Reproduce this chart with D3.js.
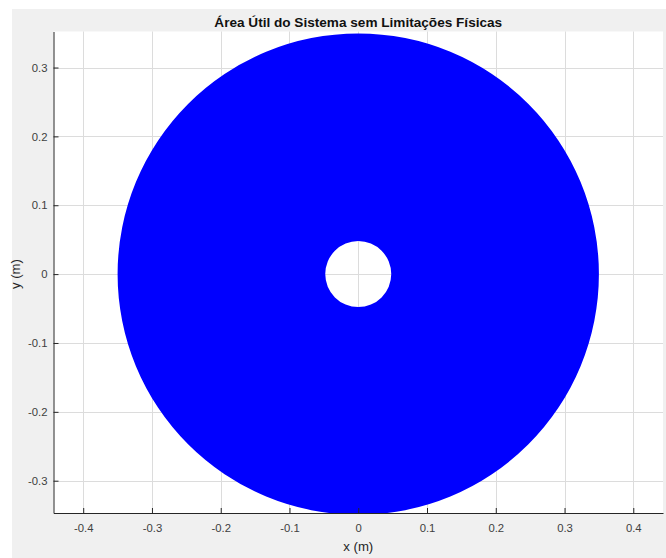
<!DOCTYPE html>
<html>
<head>
<meta charset="utf-8">
<script src="https://cdn.jsdelivr.net/npm/d3@7"></script>
<style>
  html, body { margin: 0; padding: 0; background: #ffffff; }
  svg { display: block; font-family: "Liberation Sans", Arial, Helvetica, sans-serif; }
</style>
</head>
<body>
<svg id="chart" width="666" height="558"></svg>
<script>
// Useful area: annulus between inner and outer radius (metres)
const innerRadius = 0.048;
const outerRadius = 0.35;

// Axis limits and tick values
const xLimits = [-0.4432, 0.4432];
const yLimits = [-0.3469, 0.3523];
const xTicks = [-0.4, -0.3, -0.2, -0.1, 0, 0.1, 0.2, 0.3, 0.4];
const yTicks = [-0.3, -0.2, -0.1, 0, 0.1, 0.2, 0.3];

const titleText = "Área Útil do Sistema sem Limitações Físicas";
const xLabel = "x (m)";
const yLabel = "y (m)";

const svg = d3.select("#chart");
const W = 666, H = 558;
const plot = { left: 53.5, right: 663, top: 31.5, bottom: 513 };

// Figure background
svg.append("rect").attr("x", 12).attr("y", 9).attr("width", W - 12).attr("height", H - 9)
  .attr("fill", "#f0f0f0");

const x = d3.scaleLinear().domain(xLimits).range([plot.left, plot.right]);
const y = d3.scaleLinear().domain(yLimits).range([plot.bottom, plot.top]);

// Axes background
svg.append("rect")
  .attr("x", plot.left).attr("y", plot.top)
  .attr("width", plot.right - plot.left).attr("height", plot.bottom - plot.top)
  .attr("fill", "#ffffff");

// Grid
const grid = svg.append("g").attr("stroke", "#dcdcdc").attr("stroke-width", 1);
grid.selectAll("line.gx").data(xTicks).join("line")
  .attr("x1", d => Math.round(x(d)) + 0.5).attr("x2", d => Math.round(x(d)) + 0.5)
  .attr("y1", plot.top).attr("y2", plot.bottom);
grid.selectAll("line.gy").data(yTicks).join("line")
  .attr("y1", d => Math.round(y(d)) + 0.5).attr("y2", d => Math.round(y(d)) + 0.5)
  .attr("x1", plot.left).attr("x2", plot.right);

// Annulus, clipped to the axes box
svg.append("clipPath").attr("id", "clip")
  .append("rect")
  .attr("x", plot.left).attr("y", plot.top)
  .attr("width", plot.right - plot.left).attr("height", plot.bottom - plot.top);

const pxPerUnit = x(1) - x(0);
const arc = d3.arc()
  .innerRadius(innerRadius * pxPerUnit)
  .outerRadius(outerRadius * pxPerUnit)
  .startAngle(0).endAngle(2 * Math.PI);

svg.append("g").attr("clip-path", "url(#clip)")
  .append("path")
  .attr("transform", `translate(${x(0)},${y(0)})`)
  .attr("d", arc())
  .attr("fill", "#0000ff");

// Axes
const axisColor = "#262626";
const fmt = d => d === 0 ? "0" : d3.format(".1f")(d).replace("−", "-");

const xAxis = d3.axisBottom(x).tickValues(xTicks).tickSizeInner(-5).tickSizeOuter(0)
  .tickPadding(11).tickFormat(fmt);
const gx = svg.append("g").attr("transform", `translate(0,${plot.bottom})`).call(xAxis);

const yAxis = d3.axisLeft(y).tickValues(yTicks).tickSizeInner(-5).tickSizeOuter(0)
  .tickPadding(6).tickFormat(fmt);
const gy = svg.append("g").attr("transform", `translate(${plot.left},0)`).call(yAxis);

[gx, gy].forEach(g => {
  g.select(".domain").attr("stroke", axisColor).attr("stroke-width", 1);
  g.selectAll(".tick line").attr("stroke", axisColor);
  g.selectAll(".tick text").attr("fill", "#404040")
    .style("font-size", "11.3px").style("font-family", "'Liberation Sans', Arial, sans-serif");
});

// Title
svg.append("text")
  .attr("x", x(0)).attr("y", 27)
  .attr("text-anchor", "middle")
  .attr("font-weight", "bold").attr("font-size", "13.6px").attr("fill", "#111111")
  .text(titleText);

// Axis labels
svg.append("text")
  .attr("x", x(0)).attr("y", 550.5)
  .attr("text-anchor", "middle")
  .attr("font-size", "13.2px").attr("fill", "#262626")
  .text(xLabel);

svg.append("text")
  .attr("transform", `translate(20,${y(0)}) rotate(-90)`)
  .attr("text-anchor", "middle")
  .attr("font-size", "13.2px").attr("fill", "#262626")
  .text(yLabel);
</script>
</body>
</html>
